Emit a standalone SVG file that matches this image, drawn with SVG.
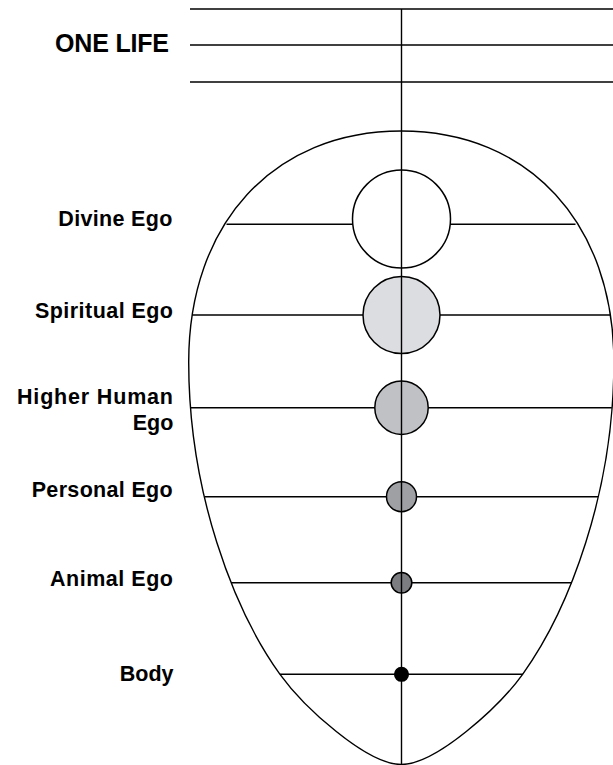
<svg xmlns="http://www.w3.org/2000/svg" width="613" height="765" viewBox="0 0 613 765">
<style>
.ln{stroke:#000;stroke-width:1.4;fill:none}
.top{stroke:#000;stroke-width:1.7;fill:none}
.egg{stroke:#000;stroke-width:1.4;fill:#fff}
.c{stroke:#000;stroke-width:1.5}
.lbl{font-family:"Liberation Sans",Arial,sans-serif;font-weight:bold;font-size:21.5px;fill:#000}
.title{font-family:"Liberation Sans",Arial,sans-serif;font-weight:bold;font-size:25px;fill:#000}
</style>
<rect width="613" height="765" fill="#fff"/>
<g id="egg">
<path class="egg" d="M 401.3 764.5 C 366.3 764.5, 303.4 706.7, 280 674.3 C 233.3 609.4, 188.7 492, 188.7 362 C 188.7 223.4, 273.7 131, 401.3 131 C 528.9 131, 613.9 223.4, 613.9 362 C 613.9 492, 569.3 609.4, 522.6 674.3 C 499.2 706.7, 436.3 764.5, 401.3 764.5 Z"/>
</g>
<g id="connectors">
<line class="top" x1="190" y1="9" x2="613" y2="9"/>
<line class="top" x1="190" y1="45" x2="613" y2="45"/>
<line class="top" x1="190" y1="82" x2="613" y2="82"/>
<line class="ln" x1="226.5" y1="224.3" x2="575.5" y2="224.3"/>
<line class="ln" x1="192.2" y1="315" x2="610.6" y2="315"/>
<line class="ln" x1="191" y1="407.7" x2="611.8" y2="407.7"/>
<line class="ln" x1="205" y1="496.7" x2="598" y2="496.7"/>
<line class="ln" x1="231" y1="582.7" x2="571.7" y2="582.7"/>
<line class="ln" x1="280" y1="674.3" x2="523" y2="674.3"/>
</g>
<g id="divine-ego">
<circle class="c" cx="401.5" cy="219" r="49" fill="#fff"/>
<text class="lbl" x="58.3" y="226" textLength="114">Divine Ego</text>
</g>
<g id="spiritual-ego">
<circle class="c" cx="401.5" cy="315" r="38.5" fill="#dcdde0"/>
<text class="lbl" x="35" y="318.3" textLength="138">Spiritual Ego</text>
</g>
<g id="higher-human-ego">
<circle class="c" cx="401.5" cy="407.7" r="26.7" fill="#c0c1c4"/>
<text class="lbl" x="17" y="404.3" textLength="156">Higher Human</text>
<text class="lbl" x="173.3" y="430" text-anchor="end">Ego</text>
</g>
<g id="personal-ego">
<circle class="c" cx="401.5" cy="496.7" r="15" fill="#9fa0a3"/>
<text class="lbl" x="31.7" y="497.3" textLength="141">Personal Ego</text>
</g>
<g id="animal-ego">
<circle class="c" cx="401.5" cy="582.7" r="10.3" fill="#7c7d80"/>
<text class="lbl" x="50" y="585.7" textLength="123">Animal Ego</text>
</g>
<g id="body">
<circle class="c" cx="401.5" cy="674.3" r="6.8" fill="#000"/>
<text class="lbl" x="173.5" y="681" text-anchor="end">Body</text>
</g>
<g id="one-life">
<text class="title" x="55" y="52" textLength="114">ONE LIFE</text>
</g>
<g id="axis">
<line class="ln" x1="401.5" y1="9" x2="401.5" y2="765"/>
</g>
</svg>
